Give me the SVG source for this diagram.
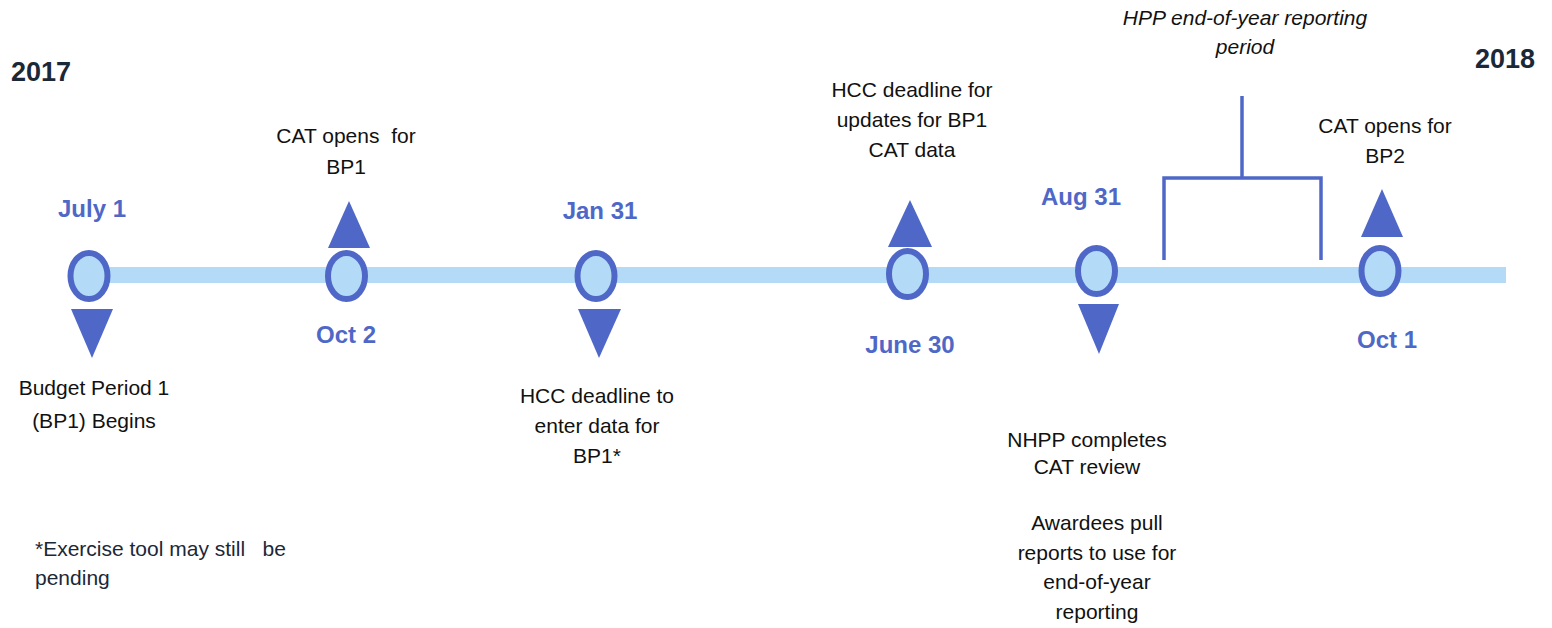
<svg xmlns="http://www.w3.org/2000/svg" width="1552" height="628" viewBox="0 0 1552 628">
<style>
.lbl{font-family:"Liberation Sans",Arial,sans-serif;font-size:21px;fill:#111;text-anchor:middle}
.date{font-family:"Liberation Sans",Arial,sans-serif;font-size:24px;font-weight:bold;fill:#4F68C8;text-anchor:middle}
.year{font-family:"Liberation Sans",Arial,sans-serif;font-size:27px;font-weight:bold;fill:#1B2838}
.note{font-family:"Liberation Sans",Arial,sans-serif;font-size:21px;fill:#1B2838}
.ital{font-family:"Liberation Sans",Arial,sans-serif;font-size:21px;font-style:italic;fill:#111;text-anchor:middle}
.dot{fill:#B3DBF7;stroke:#4F68C8;stroke-width:6}
.tri{fill:#4F68C8}
.brk{fill:none;stroke:#4F68C8;stroke-width:3.5}
</style>
<rect width="1552" height="628" fill="#fff"/>
<g id="connectors">
<rect id="timeline" x="90" y="267" width="1416" height="16" fill="#B3DBF7"/>
<path class="brk" d="M1164,260 V178 H1321 V260 M1242,178 V96"/>
</g>
<text class="year" x="11" y="81">2017</text>
<text class="year" x="1475" y="68">2018</text>
<g id="july1">
<ellipse class="dot" cx="89" cy="276" rx="18.5" ry="23"/>
<polygon class="tri" points="71,309 113,309 92,358"/>
<text class="date" x="92" y="217">July 1</text>
<text class="lbl" x="94" y="395">Budget Period 1</text>
<text class="lbl" x="94" y="428">(BP1) Begins</text>
</g>
<g id="oct2">
<ellipse class="dot" cx="346.5" cy="276" rx="18.5" ry="23"/>
<polygon class="tri" points="328,248 370,248 349,201"/>
<text class="date" x="346" y="343">Oct 2</text>
<text class="lbl" x="346" y="143" xml:space="preserve">CAT opens  for</text>
<text class="lbl" x="346" y="174">BP1</text>
</g>
<g id="jan31">
<ellipse class="dot" cx="596" cy="276" rx="18.5" ry="23"/>
<polygon class="tri" points="578,309 621,309 599,358"/>
<text class="date" x="600" y="219">Jan 31</text>
<text class="lbl" x="597" y="403">HCC deadline to</text>
<text class="lbl" x="597" y="433">enter data for</text>
<text class="lbl" x="597" y="463">BP1*</text>
</g>
<g id="june30">
<ellipse class="dot" cx="907.5" cy="274" rx="18.5" ry="23"/>
<polygon class="tri" points="888,247 932,247 910,200"/>
<text class="date" x="910" y="353">June 30</text>
<text class="lbl" x="912" y="97">HCC deadline for</text>
<text class="lbl" x="912" y="127">updates for BP1</text>
<text class="lbl" x="912" y="157">CAT data</text>
</g>
<g id="aug31">
<ellipse class="dot" cx="1096.5" cy="271" rx="18.5" ry="23"/>
<polygon class="tri" points="1078,304 1119,304 1099,354"/>
<text class="date" x="1081" y="205">Aug 31</text>
<text class="lbl" x="1087" y="447">NHPP completes</text>
<text class="lbl" x="1087" y="474">CAT review</text>
<text class="lbl" x="1097" y="530">Awardees pull</text>
<text class="lbl" x="1097" y="560">reports to use for</text>
<text class="lbl" x="1097" y="589">end-of-year</text>
<text class="lbl" x="1097" y="619">reporting</text>
</g>
<g id="oct1">
<ellipse class="dot" cx="1380" cy="271" rx="18.5" ry="23"/>
<polygon class="tri" points="1361,237 1403,237 1382,189"/>
<text class="date" x="1387" y="348">Oct 1</text>
<text class="lbl" x="1385" y="133">CAT opens for</text>
<text class="lbl" x="1385" y="163">BP2</text>
</g>
<g id="hpp">
<text class="ital" x="1245" y="25">HPP end-of-year reporting</text>
<text class="ital" x="1245" y="54">period</text>
</g>
<g id="footnote">
<text class="note" x="35" y="556" xml:space="preserve">*Exercise tool may still   be</text>
<text class="note" x="35" y="585">pending</text>
</g>
</svg>
